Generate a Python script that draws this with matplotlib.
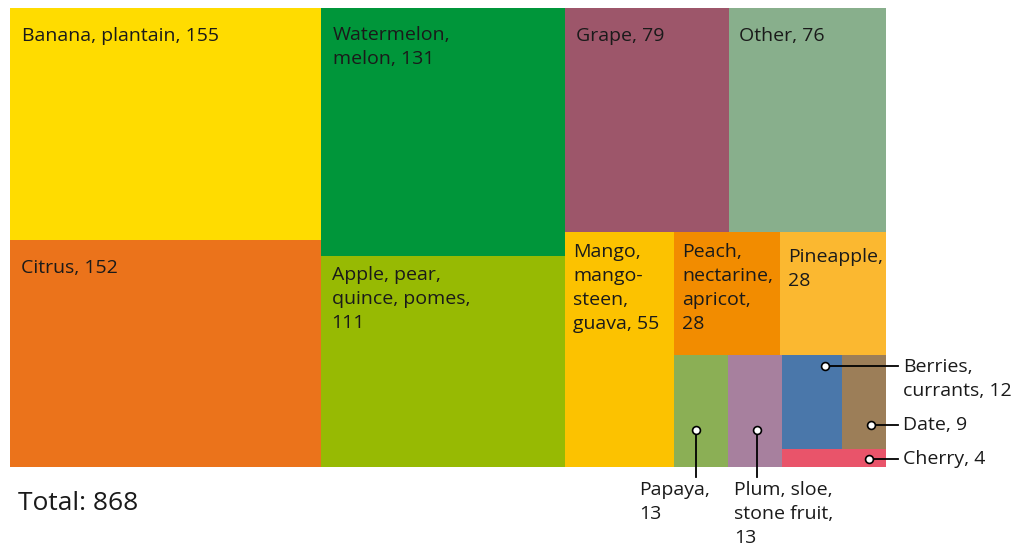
import matplotlib.pyplot as plt
from matplotlib.patches import Rectangle

plt.rcParams['font.family'] = ['Open Sans', 'DejaVu Sans']

# dados
frutas = ['Banana, plantain', 'Citrus', 'Watermelon,\nmelon', 'Apple, pear,\nquince, pomes',
          'Grape', 'Other', 'Mango,\nmango-\nsteen,\nguava', 'Peach,\nnectarine,\napricot',
          'Pineapple', 'Papaya', 'Plum, sloe,\nstone fruit', 'Berries,\ncurrants',
          'Date', 'Cherry']
separadores = [' ', ' ', ' ', '\n', ' ', ' ', ' ', '\n', '\n', '\n', '\n', ' ', ' ', ' ']
valores = [155, 152, 131, 111, 79, 76, 55, 28, 28, 13, 13, 12, 9, 4]
total = 868
cores = ['#FFDC00', '#EB731B', '#00963A', '#97BA03', '#9D566A', '#88AF8C', '#FCC200',
         '#F28C00', '#FBB830', '#8BAF55', '#A7809E', '#4A77AA', '#9C7E58', '#E9546A']

# estrutura de cortes do treemap (indices), direcao alterna a cada nivel
arvore = [[0, 1], [2, 3], [[4, 5], [6, [[7, 8], [9, 10, [[11, 12], 13]]]]]]


def soma(no):
    if isinstance(no, int):
        return valores[no]
    return sum(soma(n) for n in no)


def layout(no, x, y, w, h, nivel, saida):
    if isinstance(no, int):
        saida[no] = (x, y, w, h)
        return
    tot = soma(no)
    pos = 0
    for filho in no:
        frac = soma(filho) / tot
        if nivel % 2 == 0:
            layout(filho, x + pos * w, y, w * frac, h, nivel + 1, saida)
        else:
            layout(filho, x, y + pos * h, w, h * frac, nivel + 1, saida)
        pos += frac


retangulos = {}
layout(arvore, 10, 8, 876, 459, 0, retangulos)

fig = plt.figure(figsize=(10.26, 5.48), dpi=100)
ax = fig.add_axes([0, 0, 1, 1])
ax.set_xlim(0, 1026)
ax.set_ylim(548, 0)
ax.axis('off')

for i in range(len(valores)):
    x, y, w, h = retangulos[i]
    ax.add_patch(Rectangle((x, y), w, h, facecolor=cores[i], edgecolor='none'))

cor_texto = '#1a1a1a'
fs = 14
ls = 1.42


def rotulo(i):
    return f'{frutas[i]},{separadores[i]}{valores[i]}'


# rotulos internos (afastamento do canto de cada bloco)
desloc_x = [12, 11, 12, 11, 11, 10, 8, 8, 8]
desloc_y = [19, 19.5, 18, 10, 19, 19, 11, 11, 16]
for i in range(9):
    x, y, w, h = retangulos[i]
    ax.text(x + desloc_x[i], y + desloc_y[i], rotulo(i), fontsize=fs, color=cor_texto,
            va='top', ha='left', linespacing=ls)

# rotulos externos (direita)
for i, ty, fx in [(11, 366, 0.73), (12, 425, 0.67), (13, 459, 0.84)]:
    x, y, w, h = retangulos[i]
    px = x + w * fx
    ax.plot([px, 898], [ty, ty], color='black', lw=1.3, zorder=3)
    ax.scatter([px], [ty], s=32, facecolor='white', edgecolor='black', linewidth=1.2, zorder=4)
    if '\n' in frutas[i]:
        ax.text(903, ty - 8, rotulo(i), fontsize=fs, color=cor_texto, va='top',
                ha='left', linespacing=ls)
    else:
        ax.text(903, ty, rotulo(i), fontsize=fs, color=cor_texto, va='center',
                ha='left', linespacing=ls)

# rotulos externos (embaixo)
for i, tx, fx in [(9, 639, 0.41), (10, 734, 0.54)]:
    x, y, w, h = retangulos[i]
    px = x + w * fx
    ax.plot([px, px], [430, 477], color='black', lw=1.3, zorder=3)
    ax.scatter([px], [430], s=32, facecolor='white', edgecolor='black', linewidth=1.2, zorder=4)
    ax.text(tx, 481, rotulo(i), fontsize=fs, color=cor_texto, va='top',
            ha='left', linespacing=ls)

ax.text(18, 503, f'Total: {total}', fontsize=19, color=cor_texto, va='center', ha='left')

fig.savefig('out.png', dpi=100)
